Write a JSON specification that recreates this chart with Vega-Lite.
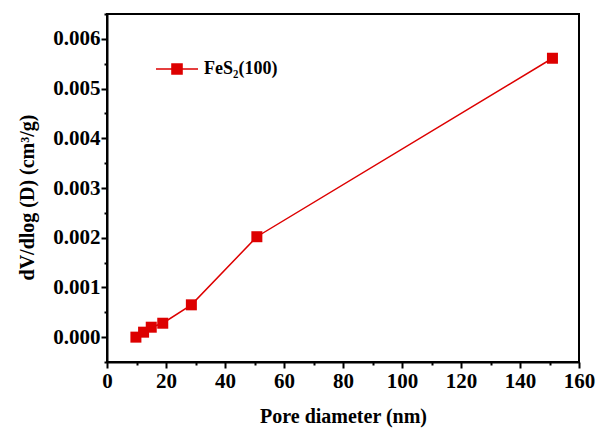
{
  "$schema": "https://vega.github.io/schema/vega-lite/v6.json",
  "autosize": "none",
  "width": 472,
  "height": 348,
  "padding": {"left": 107, "top": 14, "right": 21, "bottom": 68},
  "background": "white",
  "config": {
    "view": {"stroke": "black", "strokeWidth": 2},
    "font": "Liberation Serif",
    "axis": {
      "domainColor": "black",
      "domainWidth": 2,
      "tickColor": "black",
      "tickWidth": 2,
      "grid": false,
      "labelFont": "Liberation Serif",
      "labelFontWeight": "bold",
      "labelFontSize": 21,
      "labelColor": "black",
      "titleFont": "Liberation Serif",
      "titleFontWeight": "bold",
      "titleFontSize": 20,
      "titleColor": "black"
    }
  },
  "data": {
    "values": [
      {"d": 9.8, "v": 0.0, "s": "FeS₂(100)"},
      {"d": 12.4, "v": 0.0001, "s": "FeS₂(100)"},
      {"d": 15.0, "v": 0.0002, "s": "FeS₂(100)"},
      {"d": 18.9, "v": 0.00028, "s": "FeS₂(100)"},
      {"d": 28.6, "v": 0.00065, "s": "FeS₂(100)"},
      {"d": 50.8, "v": 0.00202, "s": "FeS₂(100)"},
      {"d": 151.0, "v": 0.00561, "s": "FeS₂(100)"}
    ]
  },
  "encoding": {
    "x": {
      "field": "d",
      "type": "quantitative",
      "scale": {"domain": [0, 160], "nice": false, "zero": false},
      "axis": {
        "title": "Pore diameter (nm)",
        "values": [0, 10, 20, 30, 40, 50, 60, 70, 80, 90, 100, 110, 120, 130, 140, 150, 160],
        "labelExpr": "datum.value % 20 === 0 ? datum.label : ''",
        "tickSize": {"condition": {"test": "datum.value % 20 === 0", "value": 6}, "value": 3},
        "labelPadding": 2,
        "titlePadding": 15,
        "labelFlush": false,
        "labelOverlap": false
      }
    },
    "y": {
      "field": "v",
      "type": "quantitative",
      "scale": {"domain": [-0.0005, 0.0065], "nice": false, "zero": false},
      "axis": {
        "title": "dV/dlog (D) (cm³/g)",
        "titleY": 183,
        "values": [-0.0005, 0, 0.0005, 0.001, 0.0015, 0.002, 0.0025, 0.003, 0.0035, 0.004, 0.0045, 0.005, 0.0055, 0.006, 0.0065],
        "labelExpr": "round(datum.value * 10000) % 10 === 0 ? format(datum.value, '.3f') : ''",
        "tickSize": {"condition": {"test": "round(datum.value * 10000) % 10 === 0", "value": 6}, "value": 3},
        "labelPadding": 1,
        "titlePadding": 15,
        "labelFlush": false,
        "labelOverlap": false
      }
    },
    "color": {
      "field": "s",
      "type": "nominal",
      "scale": {"range": ["#dd0000"]},
      "legend": {
        "title": null,
        "orient": "none",
        "legendX": 48,
        "legendY": 33,
        "padding": 0,
        "symbolType": "M-1,0H-0.24M0.24,0H1M-0.24,-0.24H0.24V0.24H-0.24Z",
        "symbolSize": 1764,
        "symbolStrokeWidth": 1.5,
        "symbolFillColor": "#dd0000",
        "symbolStrokeColor": "#dd0000",
        "labelFont": "Liberation Serif",
        "labelFontWeight": "bold",
        "labelFontSize": 18,
        "labelColor": "black",
        "labelOffset": 5
      }
    }
  },
  "layer": [
    {"mark": {"type": "line", "strokeWidth": 1.5}},
    {"mark": {"type": "point", "shape": "square", "filled": true, "size": 121, "opacity": 1}}
  ]
}
